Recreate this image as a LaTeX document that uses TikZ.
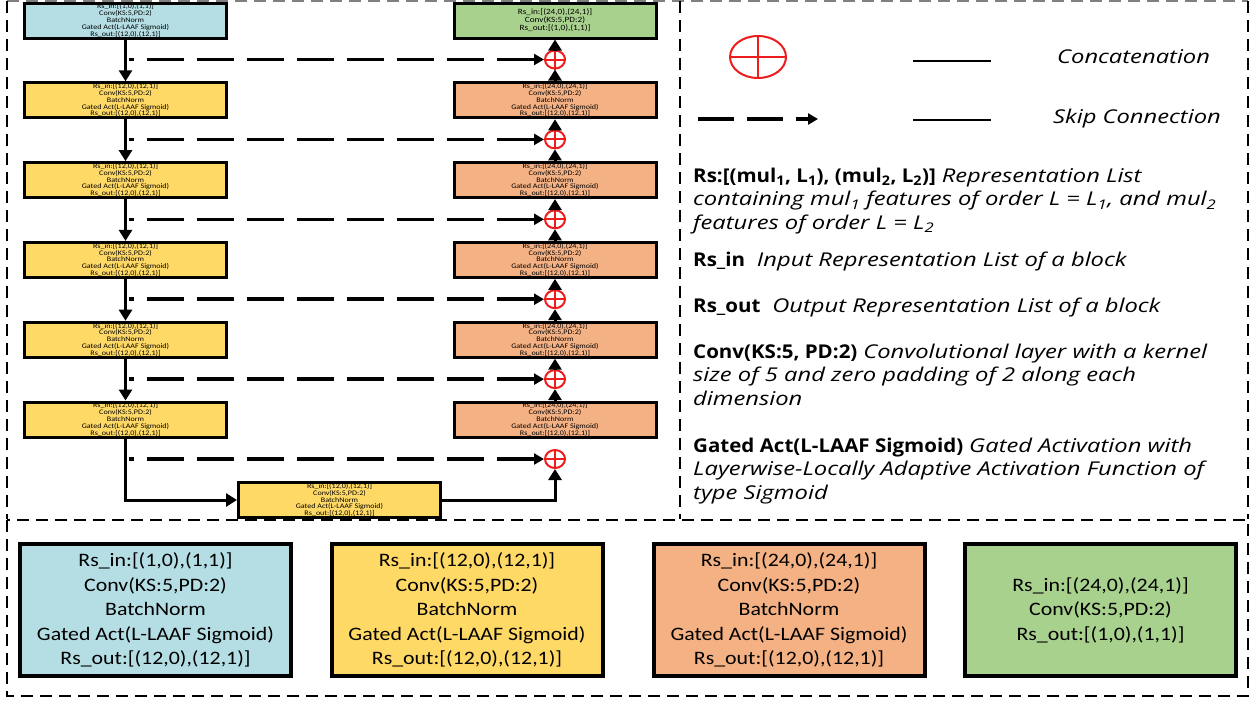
\documentclass[tikz,border=0pt]{standalone}
\usepackage{fontspec}
\setmainfont{Open Sans}[FakeStretch=1.2, BoldFeatures={FakeStretch=1.08}, ItalicFeatures={FakeStretch=1.25}]
\newfontfamily\boxfont{Carlito}[FakeStretch=1.15]
\usetikzlibrary{arrows.meta,shapes.geometric}
\definecolor{cblue}{HTML}{B4DEE4}
\definecolor{cyel}{HTML}{FFD966}
\definecolor{corg}{HTML}{F4B183}
\definecolor{cgrn}{HTML}{A9D18E}
\definecolor{cred}{HTML}{EE1C1C}
\begin{document}
\begin{tikzpicture}[x=1pt,y=-1pt,
  frame/.style={dash pattern=on 12pt off 7pt, line width=2pt},
  blk/.style={draw, line width=3pt, minimum width=202pt, minimum height=35pt, inner sep=0pt, align=center, font=\boxfont\fontsize{7}{6.8}\selectfont},
  big/.style={draw, line width=4pt, minimum width=271pt, minimum height=132pt, inner sep=0pt, align=center, font=\boxfont\fontsize{19}{24.5}\selectfont},
  flow/.style={line width=3pt, -{Triangle[length=11pt,width=13pt]}},
  skip/.style={line width=3.5pt, dash pattern=on 37pt off 13pt, dash phase=32pt, -{Triangle[length=10pt,width=11pt]}},
  plus/.style={ellipse, draw=cred, line width=2pt, minimum width=20pt, minimum height=18pt, inner sep=0pt},
  crs/.style={draw=cred, line width=2pt},
  leg/.style={anchor=base west, inner sep=0pt, font=\fontsize{19}{24}\selectfont},
  legline/.style={line width=2.5pt}
]
\useasboundingbox (0,0) rectangle (1253,702);
% frames
\draw[frame, gray] (7,1) -- (1248,1);
\draw[frame] (7,1) -- (7,519);
\draw[frame] (680,1) -- (680,519);
\draw[frame] (1248,1) -- (1248,519);
\draw[frame] (7,520) rectangle (1248,696);

% columns
\node[blk, fill=cblue] (L0) at (125.5,20.5) {Rs\_in:[(1,0),(1,1)]\\Conv(KS:5,PD:2)\\BatchNorm\\Gated Act(L-LAAF Sigmoid)\\Rs\_out:[(12,0),(12,1)]};
\node[blk, fill=cgrn, font=\boxfont\fontsize{8}{8}\selectfont] (R0) at (555,20.5) {Rs\_in:[(24,0),(24,1)]\\Conv(KS:5,PD:2)\\Rs\_out:[(1,0),(1,1)]};
\foreach \i/\y in {1/100.3,2/180.1,3/259.9,4/339.7,5/419.5}{
  \node[blk, fill=cyel] (L\i) at (125.5,\y) {Rs\_in:[(12,0),(12,1)]\\Conv(KS:5,PD:2)\\BatchNorm\\Gated Act(L-LAAF Sigmoid)\\Rs\_out:[(12,0),(12,1)]};
  \node[blk, fill=corg] (R\i) at (555,\y) {Rs\_in:[(24,0),(24,1)]\\Conv(KS:5,PD:2)\\BatchNorm\\Gated Act(L-LAAF Sigmoid)\\Rs\_out:[(12,0),(12,1)]};
}
\node[blk, fill=cyel] (B) at (339.5,500) {Rs\_in:[(12,0),(12,1)]\\Conv(KS:5,PD:2)\\BatchNorm\\Gated Act(L-LAAF Sigmoid)\\Rs\_out:[(12,0),(12,1)]};

% concatenation circles and skip connections
\foreach \i/\y in {0/59.5,1/139.4,2/219.3,3/299.2,4/379.1,5/459}{
  \node[plus] (C\i) at (555,\y) {};
  \draw[crs] (C\i.north) -- (C\i.south) (C\i.west) -- (C\i.east);
  \coordinate (S\i) at ([xshift=3pt]L0.center |- C\i.center);
  \draw[skip] (S\i) -- (C\i.west);
}
\foreach \i/\j in {0/1,1/2,2/3,3/4,4/5}{
  \draw[flow] (L\i) -- (L\j);
  \draw[flow] (R\j) -- (C\i);
  \draw[flow] (C\i) -- (R\i);
}
\draw[flow] (L5.south) |- (B.west);
\draw[flow] (B.east) -| (C5.south);

% legend
\node[plus, minimum width=56pt, minimum height=42pt] (LC) at (758,57) {};
\draw[crs] (LC.north) -- (LC.south) (LC.west) -- (LC.east);
\draw[legline] (913,61) -- (991,61);
\draw[legline] (913,120) -- (991,120);
\draw[line width=3.5pt, dash pattern=on 36pt off 13pt, -{Triangle[length=10pt,width=11pt]}] (698,119) -- (818,119);
\node[leg] (tc) at (1057,63) {\itshape Concatenation};
\node[leg] (ts) at (1053,123) {\itshape Skip Connection};

\node[leg] (a1) at (693,182) {\textbf{Rs:[(mul\textsubscript{1}, L\textsubscript{1}), (mul\textsubscript{2}, L\textsubscript{2})]} \textit{Representation List}};
\node[leg] (a2) at (693,205.5) {\itshape containing mul\textsubscript{1} features of order L = L\textsubscript{1}, and mul\textsubscript{2}};
\node[leg] (a3) at (693,229) {\itshape features of order L = L\textsubscript{2}};
\node[leg] (b1) at (693,266) {\textbf{Rs\_in}\ \ \textit{Input Representation List of a block}};
\node[leg] (c1) at (693,312) {\textbf{Rs\_out}\ \ \textit{Output Representation List of a block}};
\node[leg] (d1) at (693,358) {\textbf{Conv(KS:5, PD:2)} \textit{Convolutional layer with a kernel}};
\node[leg] (d2) at (693,381.5) {\itshape size of 5 and zero padding of 2 along each};
\node[leg] (d3) at (693,405) {\itshape dimension};
\node[leg] (e1) at (693,452) {\textbf{Gated Act(L-LAAF Sigmoid)} \textit{Gated Activation with}};
\node[leg] (e2) at (693,475.5) {\itshape Layerwise-Locally Adaptive Activation Function of};
\node[leg] (e3) at (693,499) {\itshape type Sigmoid};

% bottom key boxes
\node[big, fill=cblue] (K1) at (155.5,610) {Rs\_in:[(1,0),(1,1)]\\Conv(KS:5,PD:2)\\BatchNorm\\Gated Act(L-LAAF Sigmoid)\\Rs\_out:[(12,0),(12,1)]};
\node[big, fill=cyel] (K2) at (467,610) {Rs\_in:[(12,0),(12,1)]\\Conv(KS:5,PD:2)\\BatchNorm\\Gated Act(L-LAAF Sigmoid)\\Rs\_out:[(12,0),(12,1)]};
\node[big, fill=corg] (K3) at (789,610) {Rs\_in:[(24,0),(24,1)]\\Conv(KS:5,PD:2)\\BatchNorm\\Gated Act(L-LAAF Sigmoid)\\Rs\_out:[(12,0),(12,1)]};
\node[big, fill=cgrn] (K4) at (1100.5,610) {Rs\_in:[(24,0),(24,1)]\\Conv(KS:5,PD:2)\\Rs\_out:[(1,0),(1,1)]};
\end{tikzpicture}
\end{document}
